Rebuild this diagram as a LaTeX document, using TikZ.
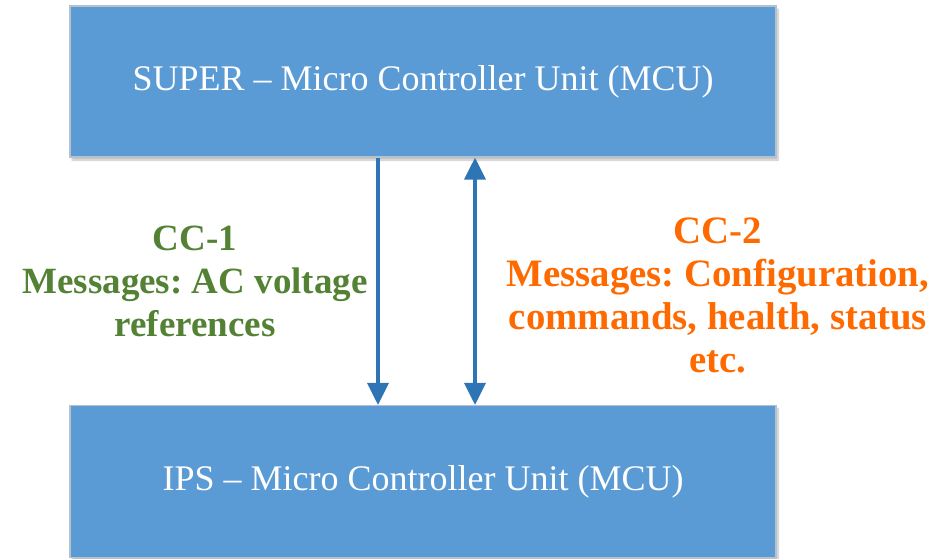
\documentclass[tikz,border=0pt]{standalone}
\usepackage{fontspec}
\setmainfont{Liberation Serif}
\usetikzlibrary{arrows.meta,shadows.blur}
\definecolor{boxblue}{HTML}{5B9BD5}
\definecolor{boxedge}{HTML}{B4C2CE}
\definecolor{arrowblue}{HTML}{2E75B6}
\definecolor{ccgreen}{HTML}{548235}
\definecolor{ccorange}{HTML}{FF6A00}
\frenchspacing
\begin{document}
\begin{tikzpicture}[x=1pt,y=-1pt,
  mcubox/.style={draw=boxedge,line width=1.2pt,fill=boxblue,minimum width=706pt,minimum height=151pt,
    inner sep=0pt,text=white,font=\fontsize{36}{40}\selectfont,
    blur shadow={shadow xshift=2pt,shadow yshift=-3pt,shadow opacity=25,shadow blur steps=6}},
  link/.style={arrowblue,line width=3.5pt},
  tip/.tip={Triangle[width=21pt,length=22pt]},
  cclabel/.style={align=center,inner sep=0pt}]
\useasboundingbox (0,0) rectangle (937,558);
\node[mcubox] (top) at (423,81.5) {SUPER -- Micro Controller Unit (MCU)};
\node[mcubox,minimum height=152pt] (bot) at (423,481.5) {IPS -- Micro Controller Unit (MCU)};
\coordinate (ldown) at (378,0);
\coordinate (lboth) at (475,0);
\draw[link,-tip] (top.south -| ldown) -- (bot.north -| ldown);
\draw[link,tip-tip] (top.south -| lboth) -- (bot.north -| lboth);
\node[cclabel,text=ccgreen,font=\bfseries\fontsize{37}{43}\selectfont] (cc1) at (195,281) {CC-1\\Messages: AC voltage\\references};
\node[cclabel,text=ccorange,font=\bfseries\fontsize{38.8}{43}\selectfont] (cc2) at (718,295) {CC-2\\Messages: Configuration,\\commands, health, status\\etc.};
\end{tikzpicture}
\end{document}
